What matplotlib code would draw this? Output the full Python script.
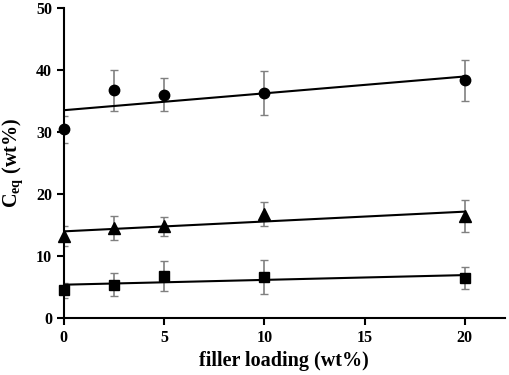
import numpy as np
import matplotlib.pyplot as plt

plt.rcParams['font.family'] = ['Liberation Serif', 'DejaVu Serif']
plt.rcParams['font.weight'] = 'bold'
plt.rcParams['mathtext.fontset'] = 'custom'
plt.rcParams['mathtext.rm'] = 'Liberation Serif:bold'
plt.rcParams['mathtext.bf'] = 'Liberation Serif:bold'

loading = np.array([0, 2.5, 5, 10, 20])

ceq_circle = [30.4, 36.7, 36.0, 36.3, 38.3]
err_circle = [2.2, 3.3, 2.7, 3.5, 3.3]

ceq_triangle = [13.2, 14.5, 14.8, 16.8, 16.5]
err_triangle = [1.6, 2.0, 1.5, 1.9, 2.6]

ceq_square = [4.5, 5.4, 6.8, 6.6, 6.45]
err_square = [1.2, 1.8, 2.4, 2.7, 1.7]

fig = plt.figure(figsize=(5.1, 3.75), dpi=100)
ax = fig.add_axes([0.125, 0.152, 0.865, 0.827])

series = [(ceq_circle, err_circle, 'o', 7.5),
          (ceq_triangle, err_triangle, '^', 8),
          (ceq_square, err_square, 's', 7)]

for vals, errs, mk, ms in series:
    ax.errorbar(loading, vals, yerr=errs, fmt='none', ecolor='#808080',
                elinewidth=1.2, capsize=3, capthick=1.0, zorder=2)
    ax.plot(loading, vals, linestyle='none', marker=mk, markersize=ms,
            color='black', zorder=3, clip_on=False)
    # linear trendline
    k, b = np.polyfit(loading, vals, 1)
    xs = np.array([0, 20])
    ax.plot(xs, k * xs + b, color='black', linewidth=1.5, zorder=2.5)

ax.set_xlim(0, 22)
ax.set_ylim(0, 50)
ax.set_xticks([0, 5, 10, 15, 20])
ax.set_yticks([0, 10, 20, 30, 40, 50])
ax.spines['top'].set_visible(False)
ax.spines['right'].set_visible(False)
ax.spines['left'].set_linewidth(1.5)
ax.spines['bottom'].set_linewidth(1.5)
ax.tick_params(direction='out', length=5, width=1.5, labelsize=11.5)

ax.set_xlabel('filler loading (wt%)', fontsize=14.5, fontweight='bold', labelpad=4)
ax.set_ylabel(r'C$_{\mathrm{eq}}$ (wt%)', fontsize=14.5, fontweight='bold', labelpad=8)

fig.savefig('out.png', dpi=100)
